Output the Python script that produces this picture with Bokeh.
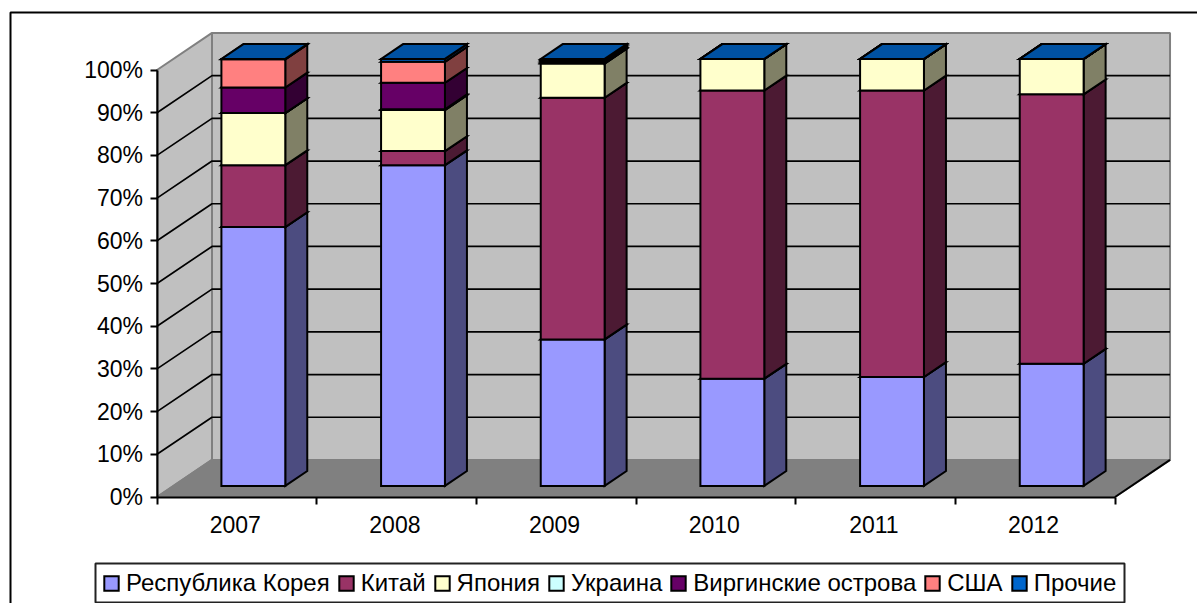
from bokeh.embed import file_html
from bokeh.resources import INLINE
from bokeh.plotting import figure
from bokeh.models import (Range1d, LinearAxis, FixedTicker, Legend, LegendItem, BoxAnnotation)

years = ["2007", "2008", "2009", "2010", "2011", "2012"]
series_names = ["Республика Корея", "Китай", "Япония", "Украина",
                "Виргинские острова", "США", "Прочие"]
korea   = [60.6, 75.1, 34.3, 25.1, 25.5, 28.6]
china   = [14.5,  3.3, 56.6, 67.5, 67.1, 63.1]
japan   = [12.2,  9.6,  8.0,  7.4,  7.4,  8.3]
ukraine = [ 0.0,  0.2,  0.2,  0.0,  0.0,  0.0]
virgin  = [ 6.0,  6.2,  0.3,  0.0,  0.0,  0.0]
usa     = [ 6.6,  4.9,  0.3,  0.0,  0.0,  0.0]
others  = [ 0.1,  0.7,  0.3,  0.0,  0.0,  0.0]
series_values = [korea, china, japan, ukraine, virgin, usa, others]
series_colors = ["#9999FF", "#993366", "#FFFFCC", "#CCFFFF", "#660066", "#FF8080", "#0066CC"]
y_ticks = [0, 10, 20, 30, 40, 50, 60, 70, 80, 90, 100]

FONT = "Liberation Sans"
FS = "23px"
LW = 2
DX, DY = 0.3445, 8.68           # oblique projection of the full chart depth, in data units
GAP_EDGE, BAR_W = 0.3, 0.4      # bar start / width inside a category
D0, D1 = 0.3, 0.7               # depth range of a bar
W, H = 1205, 611                # canvas; it starts 8px left of and above the page origin
X0, Y0 = 164.5, 504.5           # canvas position of the axes' origin
PX_X, PX_Y = 159.67, 4.27       # pixels per category / per percent


def shade(hex_color, k):
    r, g, b = (int(hex_color[i:i + 2], 16) for i in (1, 3, 5))
    return "#%02X%02X%02X" % (round(r * k), round(g * k), round(b * k))


def proj(x, y, d):
    return x + d * DX, y + d * DY


n = len(years)
p = figure(width=W, height=H, output_backend="svg", toolbar_location=None,
           x_range=Range1d(-X0 / PX_X, (W - X0) / PX_X),
           y_range=Range1d(-(H - Y0) / PX_Y, Y0 / PX_Y),
           min_border=0, x_axis_type=None, y_axis_type=None, margin=(-8, 0, 0, -8),
           background_fill_color="white", border_fill_color="white", outline_line_color=None)
p.grid.visible = False

# walls and floor
wx = [[0, DX, DX, 0], [DX, n + DX, n + DX, DX], [0, n, n + DX, DX]]
wy = [[0, DY, 100 + DY, 100], [DY, DY, 100 + DY, 100 + DY], [0, 0, DY, DY]]
p.patches(wx, wy, fill_color=["#C0C0C0", "#C0C0C0", "#808080"], line_color="#808080", line_width=LW)

# gridlines on left and back walls
gx = [[0, DX, n + DX] for t in y_ticks[1:-1]]
gy = [[t, t + DY, t + DY] for t in y_ticks[1:-1]]
p.multi_line(gx, gy, line_color="black", line_width=1.7)
# floor right edge
p.line([n, n + DX], [0, DY], line_color="black", line_width=LW)

# bars
front_renderers = []
bottom = [0.0] * n
for vals, col in zip(series_values, series_colors):
    fx, fy, sx, sy, tx, ty = [], [], [], [], [], []
    for i, v in enumerate(vals):
        x0 = i + GAP_EDGE
        x1 = x0 + BAR_W
        y0 = bottom[i]
        y1 = y0 + v
        a = proj(x0, y0, D0); b = proj(x1, y0, D0); c = proj(x1, y1, D0); e = proj(x0, y1, D0)
        b2 = proj(x1, y0, D1); c2 = proj(x1, y1, D1); e2 = proj(x0, y1, D1)
        fx.append([a[0], b[0], c[0], e[0]]); fy.append([a[1], b[1], c[1], e[1]])
        sx.append([b[0], b2[0], c2[0], c[0]]); sy.append([b[1], b2[1], c2[1], c[1]])
        tx.append([e[0], c[0], c2[0], e2[0]]); ty.append([e[1], c[1], c2[1], e2[1]])
        bottom[i] = y1
    p.patches(sx, sy, fill_color=shade(col, 0.5), line_color="black", line_width=LW, line_join="miter")
    p.patches(tx, ty, fill_color=shade(col, 0.8), line_color="black", line_width=LW, line_join="miter")
    r = p.patches(fx, fy, fill_color=col, line_color="black", line_width=LW, line_join="miter")
    front_renderers.append(r)

# axes
yaxis = LinearAxis(ticker=FixedTicker(ticks=y_ticks), bounds=(0, 100), fixed_location=0,
                   major_label_overrides={t: f"{t}%" for t in y_ticks},
                   major_tick_in=0, major_tick_out=7, minor_tick_line_color=None,
                   major_label_standoff=7, major_label_text_font=FONT,
                   major_label_text_font_size=FS, major_label_text_color="black",
                   axis_line_color="black", axis_line_width=LW,
                   major_tick_line_color="black", major_tick_line_width=LW)
p.add_layout(yaxis, "left")

centers = [i + 0.49 for i in range(n)]
xaxis = LinearAxis(ticker=FixedTicker(ticks=centers, minor_ticks=list(range(n + 1))), bounds=(0, n),
                   fixed_location=0,
                   major_label_overrides=dict(zip(centers, years)),
                   major_tick_line_color=None, major_tick_in=0, major_tick_out=0,
                   minor_tick_in=0, minor_tick_out=7, minor_tick_line_color="black",
                   minor_tick_line_width=LW, major_label_standoff=12,
                   major_label_text_font=FONT, major_label_text_font_size=FS,
                   major_label_text_color="black", axis_line_color="black", axis_line_width=LW)
p.add_layout(xaxis, "below")

# chart-area frame
p.add_layout(BoxAnnotation(left=18, right=W + 50, top=H - 20, bottom=-50, left_units="screen",
                           right_units="screen", top_units="screen", bottom_units="screen",
                           fill_alpha=0, line_color="black", line_width=LW, line_alpha=1))

# legend box and legend
p.add_layout(BoxAnnotation(left=103, right=1132, top=40, bottom=1, left_units="screen",
                           right_units="screen", top_units="screen", bottom_units="screen",
                           fill_color="white", fill_alpha=1, line_color="#222222", line_width=LW,
                           line_alpha=1))
legend = Legend(items=[LegendItem(label=nm, renderers=[r]) for nm, r in zip(series_names, front_renderers)],
                orientation="horizontal", location=(110, 6), margin=0, padding=6, spacing=7,
                glyph_width=18, glyph_height=18, label_standoff=6, label_text_font=FONT,
                label_text_font_size="24px", label_text_color="black", label_height=24,
                border_line_color=None, background_fill_alpha=0)
p.add_layout(legend, "center")

open("out.html", "w").write(file_html(p, INLINE))
